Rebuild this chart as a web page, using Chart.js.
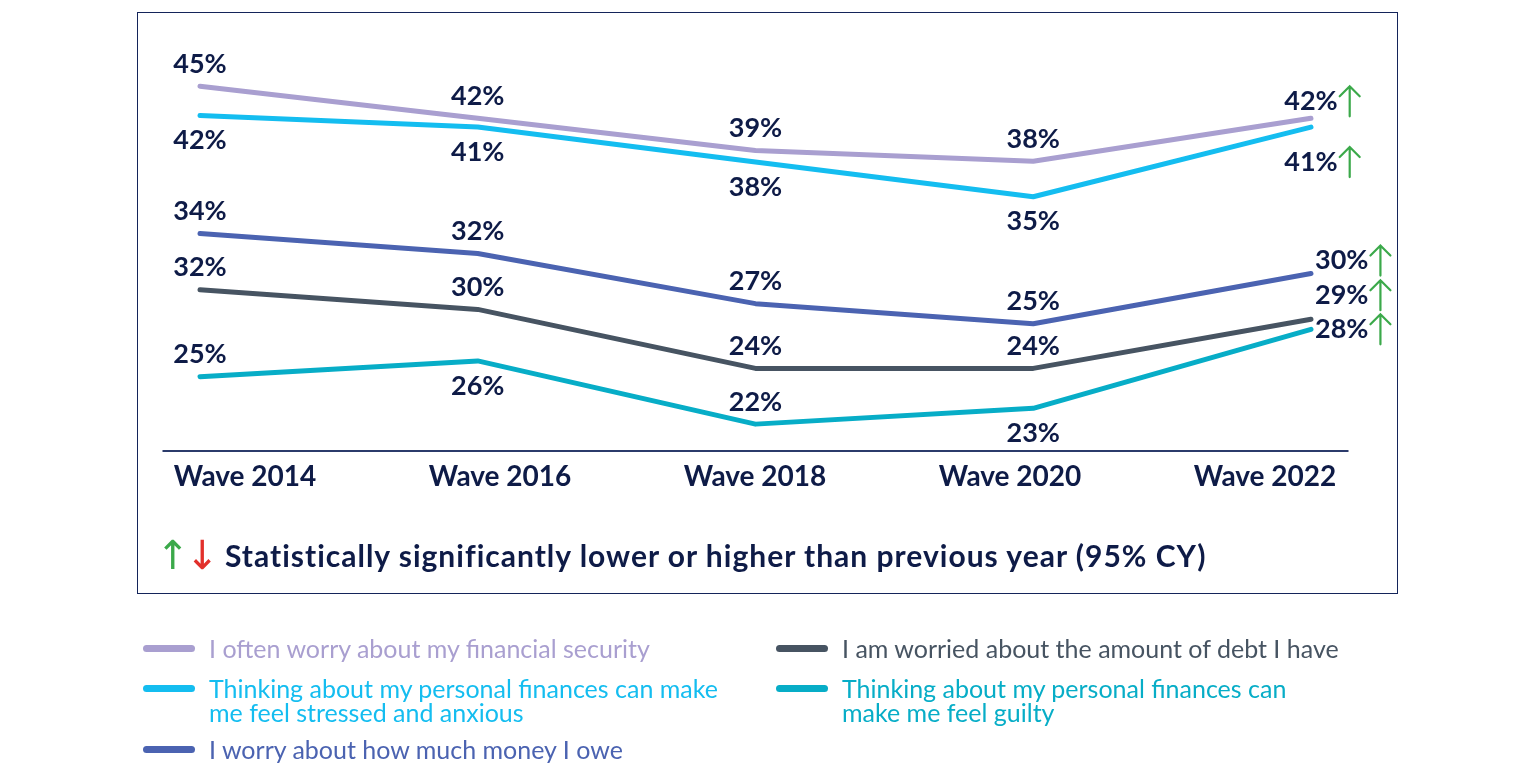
<!DOCTYPE html>
<html>
<head>
<meta charset="utf-8">
<script src="https://cdn.jsdelivr.net/npm/chart.js@4.4.1/dist/chart.umd.min.js"></script>
<style>
  html, body { margin: 0; padding: 0; background: #fff; }
  body { width: 1536px; height: 775px; position: relative; overflow: hidden; font-family: Lato, 'Noto Sans', sans-serif; }
  #frame { position: absolute; left: 137px; top: 12px; width: 1259px; height: 580px; border: 1.5px solid #14245a; }
  #chart { position: absolute; left: 0; top: 0; }
  #note { position: absolute; left: 156px; top: 536px; font-weight: 700; font-size: 30px; letter-spacing: 1px; color: #0e1b47; white-space: nowrap; line-height: 38px; }
  #note .arr { font-family: 'DejaVu Sans', sans-serif; font-weight: 400; font-size: 40px; letter-spacing: -4px; vertical-align: -2px; }
  #note .txt { margin-left: 10px; }
  .leg-item { position: absolute; display: flex; align-items: flex-start; font-size: 25px; line-height: 24px; white-space: nowrap; }
  .leg-swatch { width: 52px; height: 7px; border-radius: 4px; margin-top: 9px; margin-right: 14px; flex: none; }
</style>
</head>
<body>
<div id="frame"></div>
<canvas id="chart" width="1536" height="775"></canvas>
<div id="note"><span class="arr" style="color:#3ba94a">↑</span><span class="arr" style="color:#e2302b">↓</span><span class="txt">Statistically significantly lower or higher than previous year (95% CY)</span></div>
<div id="legend"></div>
<script>
const waves = ['Wave 2014', 'Wave 2016', 'Wave 2018', 'Wave 2020', 'Wave 2022'];

const seriesNames = [
  ['I often worry about my financial security'],
  ['Thinking about my personal finances can make', 'me feel stressed and anxious'],
  ['I worry about how much money I owe'],
  ['I am worried about the amount of debt I have'],
  ['Thinking about my personal finances can', 'make me feel guilty']
];

const financialSecurity = [45, 42, 39, 38, 42];
const stressedAnxious   = [42, 41, 38, 35, 41];
const moneyOwed         = [34, 32, 27, 25, 30];
const debtWorry         = [32, 30, 24, 24, 29];
const feelGuilty        = [25, 26, 22, 23, 28];

// significance vs previous wave
const sigFinancialSecurity = ['', '', '', '', 'up'];
const sigStressedAnxious   = ['', '', '', '', 'up'];
const sigMoneyOwed         = ['', '', '', '', 'up'];
const sigDebtWorry         = ['', '', '', '', 'up'];
const sigFeelGuilty        = ['', '', '', '', 'up'];

const TEXT = '#0e1b47';
const COLORS = ['#a99fd0', '#14bdf0', '#4b63b1', '#475462', '#07adc7'];

// each series sits on its own hidden axis, as in the original
const AXES = [
  { min: 11.0, max: 49.3 },
  { min: 13.1, max: 48.5 },
  { min: 12.3, max: 53.3 },
  { min: 15.6, max: 57.4 },
  { min: 20.3, max: 46.3 }
];

const LABEL_POS = [
  ['a', 'a', 'a', 'a', 'a'],
  ['b', 'b', 'b', 'b', 'b'],
  ['a', 'a', 'a', 'a', 'r'],
  ['a', 'a', 'a', 'a', 'r'],
  ['a', 'b', 'a', 'b', 'r']
];
const LAST_NUDGE = [5, 10, -13, -24, 0];

const allValues = [financialSecurity, stressedAnxious, moneyOwed, debtWorry, feelGuilty];
const allSig = [sigFinancialSecurity, sigStressedAnxious, sigMoneyOwed, sigDebtWorry, sigFeelGuilty];

function drawArrow(ctx, cx, cy, dir) {
  const h = 15;
  ctx.save();
  ctx.strokeStyle = dir === 'up' ? '#3ba94a' : '#e2302b';
  ctx.lineWidth = 2.2;
  ctx.lineCap = 'round';
  ctx.beginPath();
  ctx.moveTo(cx, cy - h);
  ctx.lineTo(cx, cy + h);
  const tip = dir === 'up' ? cy - h : cy + h;
  const s = dir === 'up' ? 1 : -1;
  ctx.moveTo(cx - 10, tip + 10 * s);
  ctx.lineTo(cx, tip);
  ctx.lineTo(cx + 10, tip + 10 * s);
  ctx.stroke();
  ctx.restore();
}

const axisLine = {
  id: 'axisLine',
  beforeDatasetsDraw(chart) {
    const { ctx, chartArea } = chart;
    ctx.save();
    ctx.strokeStyle = '#2b3b6b';
    ctx.lineWidth = 2;
    ctx.beginPath();
    ctx.moveTo(chartArea.left + 45, chartArea.bottom);
    ctx.lineTo(chartArea.right - 44, chartArea.bottom);
    ctx.stroke();
    ctx.restore();
  }
};

const valueLabels = {
  id: 'valueLabels',
  afterDatasetsDraw(chart) {
    const ctx = chart.ctx;
    ctx.save();
    ctx.font = 'bold 27px Lato';
    ctx.fillStyle = TEXT;
    ctx.textBaseline = 'middle';
    ctx.textAlign = 'left';
    chart.data.datasets.forEach((ds, di) => {
      const meta = chart.getDatasetMeta(di);
      meta.data.forEach((pt, i) => {
        const pos = LABEL_POS[di][i];
        const txt = allValues[di][i] + '%';
        const w = ctx.measureText(txt).width;
        let y = pt.y;
        if (pos === 'a') y -= 22;
        else if (pos === 'b') y += 25;
        if (i === meta.data.length - 1) y += LAST_NUDGE[di];
        const left = pos === 'r' ? pt.x + 4 : pt.x - w / 2;
        ctx.fillText(txt, left, y);
        if (allSig[di][i]) drawArrow(ctx, left + w + 12, y, allSig[di][i]);
      });
    });
    ctx.restore();
  }
};

const scales = {
  x: { type: 'linear', display: false, min: -0.297, max: 4.2935 },
  x2: {
    type: 'category', labels: waves, offset: true, position: 'bottom',
    grid: { display: false, drawTicks: false }, border: { display: false },
    ticks: { color: TEXT, padding: 9, font: { family: 'Lato', size: 28, weight: 'bold' } }
  }
};
AXES.forEach((a, i) => {
  scales['y' + i] = { type: 'linear', display: false, min: a.min, max: a.max };
});

new Chart(document.getElementById('chart'), {
  type: 'line',
  data: {
    labels: waves,
    datasets: allValues.map((vals, i) => ({
      label: seriesNames[i].join(' '),
      data: vals.map((v, k) => ({ x: k, y: v })),
      borderColor: COLORS[i],
      borderWidth: 5,
      borderCapStyle: 'round',
      borderJoinStyle: 'round',
      pointRadius: 0,
      tension: 0,
      xAxisID: 'x',
      yAxisID: 'y' + i
    }))
  },
  options: {
    responsive: false,
    animation: false,
    layout: { padding: { left: 117.5, right: 143.5, top: 40, bottom: 272.4 } },
    plugins: { legend: { display: false }, tooltip: { enabled: false } },
    scales
  },
  plugins: [axisLine, valueLabels]
});

// legend laid out in two columns below the frame
const legendTops = [636, 676, 737];
const legendLefts = [143, 776];
const legend = document.getElementById('legend');
seriesNames.forEach((lines, i) => {
  const col = i < 3 ? 0 : 1;
  const row = i % 3;
  const item = document.createElement('div');
  item.className = 'leg-item';
  item.style.left = legendLefts[col] + 'px';
  item.style.top = legendTops[row] + 'px';
  item.style.color = COLORS[i];
  item.innerHTML = `<div class="leg-swatch" style="background:${COLORS[i]}"></div><div>${lines.join('<br>')}</div>`;
  legend.appendChild(item);
});
</script>
</body>
</html>
